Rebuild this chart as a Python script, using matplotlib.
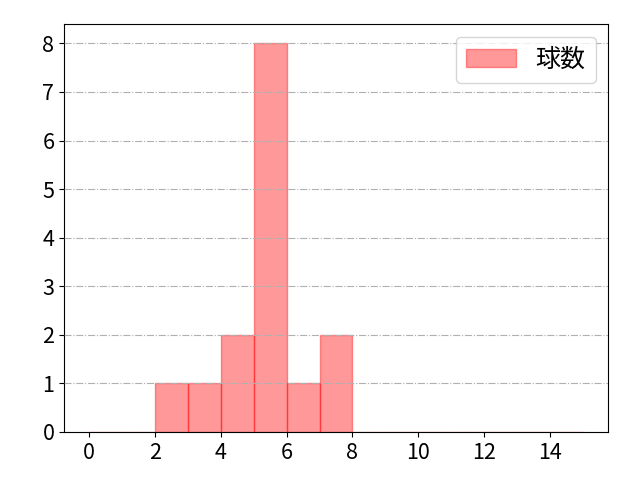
import matplotlib
matplotlib.use("Agg")
import matplotlib.pyplot as plt

plt.rcParams['font.family'] = ['Noto Sans CJK JP', 'DejaVu Sans']

pitch_counts = [2, 3, 4, 4, 5, 5, 5, 5, 5, 5, 5, 5, 6, 7, 7]
bin_edges = list(range(0, 16))
xticks = [0, 2, 4, 6, 8, 10, 12, 14]
label = "球数"

fig, ax = plt.subplots(figsize=(6.4, 4.8), dpi=100)
fig.subplots_adjust(left=0.1, right=0.95, bottom=0.1, top=0.95)
ax.hist(pitch_counts, bins=bin_edges, color='red', alpha=0.4, edgecolor='red', label=label)
ax.set_xticks(xticks)
ax.grid(axis='y', linestyle='-.', color='#b0b0b0', linewidth=0.8)
ax.set_axisbelow(False)
ax.tick_params(labelsize=15.5)
ax.legend(fontsize=18)
fig.savefig("out.png")
